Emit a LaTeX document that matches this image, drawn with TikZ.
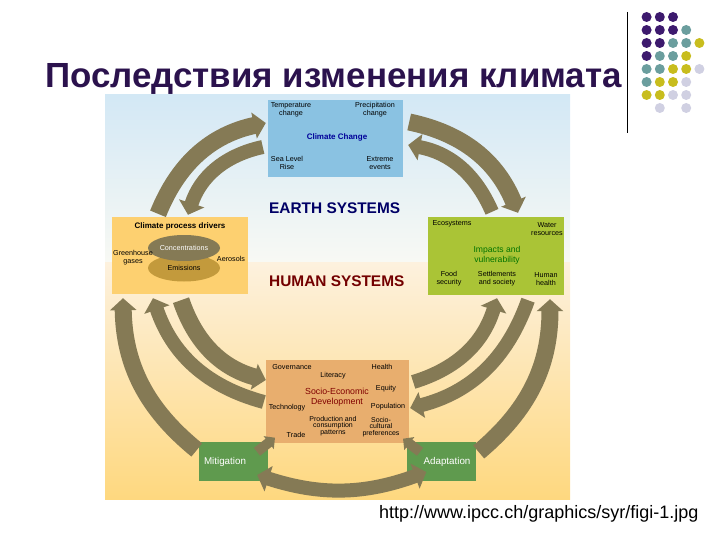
\documentclass[tikz,border=0pt]{standalone}
\usepackage{fontspec}
\setsansfont{Liberation Sans}
\usetikzlibrary{arrows.meta,matrix,shapes.geometric}
\definecolor{flowcolor}{HTML}{857A55}
\definecolor{dotp}{HTML}{3D1A6E}
\definecolor{dott}{HTML}{6B9E9E}
\definecolor{doty}{HTML}{C8BD1E}
\definecolor{dotl}{HTML}{D0D0E2}
\definecolor{actiongreen}{HTML}{5F9A4E}
\tikzset{every node/.append style = {font=\sffamily}}
\tikzset{small/.style = {align=center, inner sep=0pt,
  font=\sffamily\fontsize{7.2}{7.8}\selectfont}}
\tikzset{sysbox/.style = {rectangle, inner sep=0pt}}
\tikzset{syslabel/.style = {inner sep=0pt, anchor=base west,
  font=\sffamily\bfseries\fontsize{15.4}{16}\selectfont}}
\tikzset{actionbox/.style = {sysbox, fill=actiongreen, text=white, minimum width=69pt,
  minimum height=39pt, font=\sffamily\fontsize{9.8}{10}\selectfont}}
\tikzset{flowtip/.tip = {Triangle[length=12pt,width=26pt]}}
\tikzset{flow/.style = {draw=flowcolor, line width=17pt, -{flowtip}}}
\tikzset{thinflow/.style = {flow, line width=14pt}}
\tikzset{shortflow/.style = {flow, line width=10pt, -{Triangle[length=8pt,width=16pt]}}}
\tikzset{dots/.style = {matrix of nodes, column sep=3.2pt, row sep=3pt,
  nodes={circle, inner sep=0pt, minimum size=10pt}}}
\begin{document}
\begin{tikzpicture}[x=1pt,y=-1pt]
  \useasboundingbox (0,0) rectangle (720,540);
  \shade[top color={rgb,255:red,211;green,232;blue,245}, bottom color={rgb,255:red,248;green,249;blue,244}]
    (105,95) rectangle (570,262);
  \shade[top color={rgb,255:red,253;green,241;blue,222}, bottom color={rgb,255:red,254;green,216;blue,127}]
    (105,262) rectangle (570,499);
  \node[inner sep=0pt, anchor=base west, text=dotp!70!black,
    font=\sffamily\bfseries\fontsize{34.9}{36}\selectfont] (title) at (45,88)
    {Последствия изменения климата};
  \draw[thick] (627,12) -- (627,133);
  \matrix[dots] (dotgrid) at (673,62.5) {
    |[fill=dotp]| {} & |[fill=dotp]| {} & |[fill=dotp]| {} & & \\
    |[fill=dotp]| {} & |[fill=dotp]| {} & |[fill=dotp]| {} & |[fill=dott]| {} & \\
    |[fill=dotp]| {} & |[fill=dotp]| {} & |[fill=dott]| {} & |[fill=dott]| {} & |[fill=doty]| {} \\
    |[fill=dotp]| {} & |[fill=dott]| {} & |[fill=dott]| {} & |[fill=doty]| {} & \\
    |[fill=dott]| {} & |[fill=dott]| {} & |[fill=doty]| {} & |[fill=doty]| {} & |[fill=dotl]| {} \\
    |[fill=dott]| {} & |[fill=doty]| {} & |[fill=doty]| {} & |[fill=dotl]| {} & \\
    |[fill=doty]| {} & |[fill=doty]| {} & |[fill=dotl]| {} & |[fill=dotl]| {} & \\
    & |[fill=dotl]| {} & & |[fill=dotl]| {} & \\};
  \node[sysbox, fill={rgb,255:red,138;green,194;blue,226}, minimum width=135pt, minimum height=77pt] (cc) at (335.5,138.5) {};
  \node[sysbox, fill={rgb,255:red,253;green,208;blue,112}, minimum width=136pt, minimum height=77pt] (drivers) at (180,255.5) {};
  \node[sysbox, fill={rgb,255:red,170;green,196;blue,54}, minimum width=136pt, minimum height=78pt] (impacts) at (496,256) {};
  \node[sysbox, fill={rgb,255:red,232;green,174;blue,110}, minimum width=143pt, minimum height=83pt] (socio) at (337.5,401) {};
  \node[actionbox] (mitigation) at (233.5,461.5) {\hspace*{-17pt}Mitigation};
  \node[actionbox] (adaptation) at (441,461.5) {\hspace*{12pt}Adaptation};
  % climate box
  \node[small] (temp) at (291,110) {Temperature\\change};
  \node[small] (precip) at (375,110) {Precipitation\\change};
  \node[small, text=blue!60!black, font=\sffamily\bfseries\fontsize{8}{9}\selectfont] (cctitle) at (337,137) {Climate Change};
  \node[small] (sea) at (287,163) {Sea Level\\Rise};
  \node[small] (extreme) at (380,163) {Extreme\\events};
  \node[syslabel, text=blue!40!black] (earth) at (269,214) {EARTH SYSTEMS};
  \node[syslabel, text=red!45!black] (human) at (269,286) {HUMAN SYSTEMS};
  % drivers box
  \node[small, text=black, font=\sffamily\bfseries\fontsize{8}{9}\selectfont] (drtitle) at (180,226) {Climate process drivers};
  \node[ellipse, inner sep=0pt, minimum width=72pt, minimum height=27pt, fill={rgb,255:red,195;green,154;blue,60}, small] (emissions) at (184,268) {Emissions};
  \node[ellipse, inner sep=0pt, minimum width=72pt, minimum height=26pt, fill=flowcolor, small, text=white] (conc) at (184,248) {Concentrations};
  \node[small] (ghg) at (133,258) {Greenhouse\\gases};
  \node[small] (aerosols) at (231,259) {Aerosols};
  % impacts box
  \node[small] (eco) at (452,224) {Ecosystems};
  \node[small] (water) at (547,229) {Water\\resources};
  \node[small, text=green!45!black, font=\sffamily\fontsize{8.6}{10}\selectfont] (imptitle) at (497,255) {Impacts and\\vulnerability};
  \node[small] (food) at (449,279) {Food\\security};
  \node[small] (settle) at (497,279) {Settlements\\and society};
  \node[small] (health) at (546,279) {Human\\health};
  % socio box
  \node[small] (gov) at (292,367) {Governance};
  \node[small] (literacy) at (333,376) {Literacy};
  \node[small] (shealth) at (382,367) {Health};
  \node[small, text=red!50!black, font=\sffamily\fontsize{8.8}{10}\selectfont] (sociotitle) at (337,397) {Socio-Economic\\Development};
  \node[small] (equity) at (386,389) {Equity};
  \node[small] (tech) at (287,408) {Technology};
  \node[small] (pop) at (388,407) {Population};
  \node[small, font=\sffamily\fontsize{7}{6.6}\selectfont] (prod) at (333,426) {Production and\\consumption\\patterns};
  \node[small, font=\sffamily\fontsize{7}{6.6}\selectfont] (cult) at (381,427) {Socio-\\cultural\\preferences};
  \node[small] (trade) at (296,435) {Trade};
  % flows
  \draw[flow] ([shift={(-22pt,3pt)}]drivers.north) to[bend left=28] ([shift={(-2pt,15.5pt)}]cc.west);
  \draw[thinflow] ([shift={(-5pt,-8.5pt)}]cc.west) to[bend right=30] ([shift={(8pt,2pt)}]drivers.north);
  \draw[flow] ([shift={(6pt,16.5pt)}]cc.east) to[bend left=28] ([shift={(22pt,4pt)}]impacts.north);
  \draw[thinflow] ([shift={(-4pt,5pt)}]impacts.north) to[bend right=28] ([shift={(5pt,-6.5pt)}]cc.east);
  \draw[flow] ([shift={(1pt,-6pt)}]drivers.south) to[bend right=28] ([shift={(0pt,21pt)}]socio.west);
  \draw[thinflow] ([shift={(-2pt,-1pt)}]socio.west) to[bend left=28] ([shift={(-27pt,-4pt)}]drivers.south);
  \draw[flow] ([shift={(-2pt,11.5pt)}]mitigation.west) to[bend left=25] ([shift={(-57pt,-4pt)}]drivers.south);
  \draw[thinflow] ([shift={(4pt,19pt)}]socio.east) to[bend right=28] ([shift={(1pt,-3pt)}]impacts.south);
  \draw[thinflow] ([shift={(32pt,-5pt)}]impacts.south) to[bend left=28] ([shift={(1pt,-7pt)}]socio.east);
  \draw[flow] ([shift={(3pt,9.5pt)}]adaptation.east) to[bend right=25] ([shift={(54pt,-4pt)}]impacts.south);
  \draw[thinflow, {flowtip}-{flowtip}] ([shift={(20pt,-10.5pt)}]adaptation.west) to[bend left=19] ([shift={(-11pt,-13.5pt)}]mitigation.east);
  \draw[shortflow] ([shift={(23.5pt,-10pt)}]mitigation.north) to ([shift={(-62.5pt,5pt)}]socio.south);
  \draw[shortflow] ([shift={(-21pt,-10pt)}]adaptation.north) to ([shift={(65.5pt,4pt)}]socio.south);
  \node[inner sep=0pt, anchor=base west, font=\sffamily\fontsize{18}{20}\selectfont] (source) at (379,518)
    {http://www.ipcc.ch/graphics/syr/figi-1.jpg};
\end{tikzpicture}
\end{document}
